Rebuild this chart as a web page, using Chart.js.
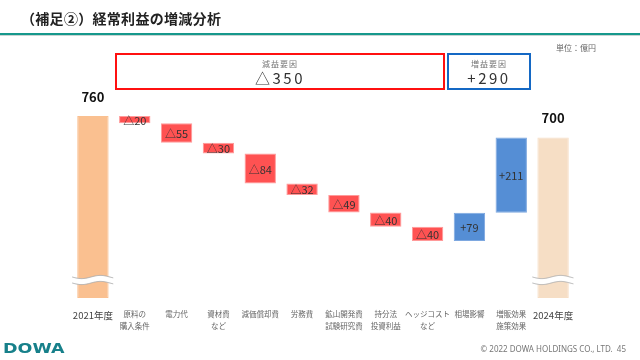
<!DOCTYPE html>
<html>
<head>
<meta charset="utf-8">
<script src="https://cdn.jsdelivr.net/npm/chart.js@4"></script>
<style>
  body { margin: 0; width: 640px; height: 360px; overflow: hidden; background: #fff; font-family: "Noto Sans CJK JP", "Noto Sans", sans-serif; position: relative; }
  #wrap { position: absolute; left: 0; top: 0; width: 640px; height: 360px; }
  .title { position: absolute; left: 21px; top: 8px; font-size: 14px; font-weight: bold; color: #222; letter-spacing: 0.3px; }
  .rule { position: absolute; left: 0; top: 33px; width: 640px; height: 2px; background: #16988c; }
  .rule2 { position: absolute; left: 0; top: 35px; width: 640px; height: 1px; background: #c8d4d2; }
  .unit { position: absolute; left: 556px; top: 42px; font-size: 8px; color: #666; }
  .box { position: absolute; top: 53px; height: 33px; text-align: center; box-sizing: content-box; }
  .box .small { font-size: 8px; color: #777; margin-top: 4px; line-height: 10px; letter-spacing: 1px; }
  .box .big { font-size: 15px; color: #333; line-height: 18px; letter-spacing: 2.5px; }
  .red { left: 115px; width: 326px; border: 2px solid #ff1010; }
  .blue { left: 447px; width: 80px; border: 2px solid #1468c4; }
  .logo { position: absolute; left: 3px; top: 340px; font-family: "DejaVu Sans"; font-weight: bold; font-size: 14px; color: #17808a; transform: scaleX(1.25); transform-origin: left; }
  .copy { position: absolute; right: 14px; top: 343px; font-size: 8px; color: #777; font-family: "Noto Sans", sans-serif; }
</style>
</head>
<body>
<div id="wrap"><canvas id="chart" width="640" height="360"></canvas></div>
<div class="title">（補足②）経常利益の増減分析</div>
<div class="rule"></div>
<div class="rule2"></div>
<div class="unit">単位：億円</div>
<div class="box red"><div class="small">減益要因</div><div class="big">△350</div></div>
<div class="box blue"><div class="small">増益要因</div><div class="big">+290</div></div>
<div class="logo">DOWA</div>
<div class="copy">© 2022 DOWA HOLDINGS CO., LTD.&nbsp;&nbsp;45</div>
<script>
const categories = [
    ["2021年度"], ["原料の", "購入条件"], ["電力代"], ["資材費", "など"], ["減価償却費"], ["労務費"],
    ["鉱山開発費", "試験研究費"], ["持分法", "投資利益"], ["ヘッジコスト", "など"], ["相場影響"],
    ["増販効果", "施策効果"], ["2024年度"]
];
const startValue = 760;
const endValue = 700;
const changes = [-20, -55, -30, -84, -32, -49, -40, -40, 79, 211];
const axisFloor = 250;

// floating ranges from running totals
const ranges = [[axisFloor, startValue]];
let total = startValue;
changes.forEach((c) => {
    ranges.push([total, total + c]);
    total += c;
});
ranges.push([axisFloor, endValue]);

const labels = ["" + startValue].concat(
    changes.map((c) => (c < 0 ? "△" + Math.abs(c) : "+" + c)),
    ["" + endValue]
);

const lastIndex = ranges.length - 1;

const fillColors = ranges.map((r, i) => {
    if (i === 0) return "#fac090";
    if (i === lastIndex) return "#f6dec5";
    return changes[i - 1] < 0 ? "#ff5252" : "#558ed5";
});
const edgeColors = ranges.map((r, i) => {
    if (i === 0 || i === lastIndex) return fillColors[i];
    return changes[i - 1] < 0 ? "#ff9a9a" : "#7ea8e0";
});

const labelPlugin = {
    id: "labels",
    afterDatasetsDraw(chart) {
        const ctx = chart.ctx;
        const meta = chart.getDatasetMeta(0);
        ctx.save();
        ctx.textAlign = "center";
        ctx.textBaseline = "middle";
        meta.data.forEach((bar, i) => {
            if (i === 0 || i === lastIndex) {
                ctx.font = "bold 13px 'Noto Sans CJK JP'";
                ctx.fillStyle = "#111";
                ctx.fillText(labels[i], bar.x, Math.min(bar.y, bar.base) - 19);
            } else {
                ctx.font = "11px 'Noto Sans CJK JP'";
                ctx.fillStyle = "#333";
                ctx.fillText(labels[i], bar.x, (bar.y + bar.base) / 2 + 1);
            }
        });
        ctx.restore();
    }
};

// wavy break marks on the two total bars
const breakPlugin = {
    id: "breaks",
    afterDatasetsDraw(chart) {
        const ctx = chart.ctx;
        const meta = chart.getDatasetMeta(0);
        [0, lastIndex].forEach((i) => {
            const bar = meta.data[i];
            const x0 = bar.x - bar.width / 2 - 5;
            const x1 = bar.x + bar.width / 2 + 5;
            const yc = 280;
            const yAt = (x, off) => yc + off + 1.6 * Math.sin(((x - x0) / (x1 - x0)) * Math.PI * 2.2);
            const wave = (off) => {
                ctx.moveTo(x0, yAt(x0, off));
                for (let x = x0; x <= x1; x += 1) ctx.lineTo(x, yAt(x, off));
            };
            ctx.save();
            ctx.beginPath();
            wave(-3);
            for (let x = x1; x >= x0; x -= 1) ctx.lineTo(x, yAt(x, 3));
            ctx.closePath();
            ctx.fillStyle = "#fff";
            ctx.fill();
            ctx.strokeStyle = "#aaaaaa";
            ctx.lineWidth = 0.9;
            ctx.beginPath();
            wave(-3);
            ctx.stroke();
            ctx.beginPath();
            wave(3);
            ctx.stroke();
            ctx.restore();
        });
    }
};

new Chart(document.getElementById("chart").getContext("2d"), {
    type: "bar",
    data: {
        labels: categories,
        datasets: [
            {
                data: ranges,
                backgroundColor: fillColors,
                borderColor: edgeColors,
                borderWidth: 1,
                borderSkipped: false,
                barPercentage: 0.75,
                categoryPercentage: 1,
            },
        ],
    },
    options: {
        responsive: false,
        animation: false,
        layout: { padding: { left: 72, right: 66, top: 100, bottom: 0 } },
        plugins: { legend: { display: false }, tooltip: { enabled: false } },
        scales: {
            x: {
                grid: { display: false, drawTicks: false },
                border: { display: false },
                ticks: {
                    color: (c) => (c.index === 0 || c.index === lastIndex ? "#444" : "#666"),
                    font: (c) => (c.index === 0 || c.index === lastIndex
                        ? { size: 9.5, family: "'Noto Sans CJK JP'", lineHeight: 1.5 }
                        : { size: 7.5, family: "'Noto Sans CJK JP'", lineHeight: 1.6 }),
                    padding: 10,
                    maxRotation: 0,
                    autoSkip: false,
                },
                afterFit: (scale) => { scale.height = 62; },
            },
            y: {
                display: false,
                min: axisFloor,
                max: 805,
            },
        },
    },
    plugins: [labelPlugin, breakPlugin],
});
</script>
</body>
</html>
